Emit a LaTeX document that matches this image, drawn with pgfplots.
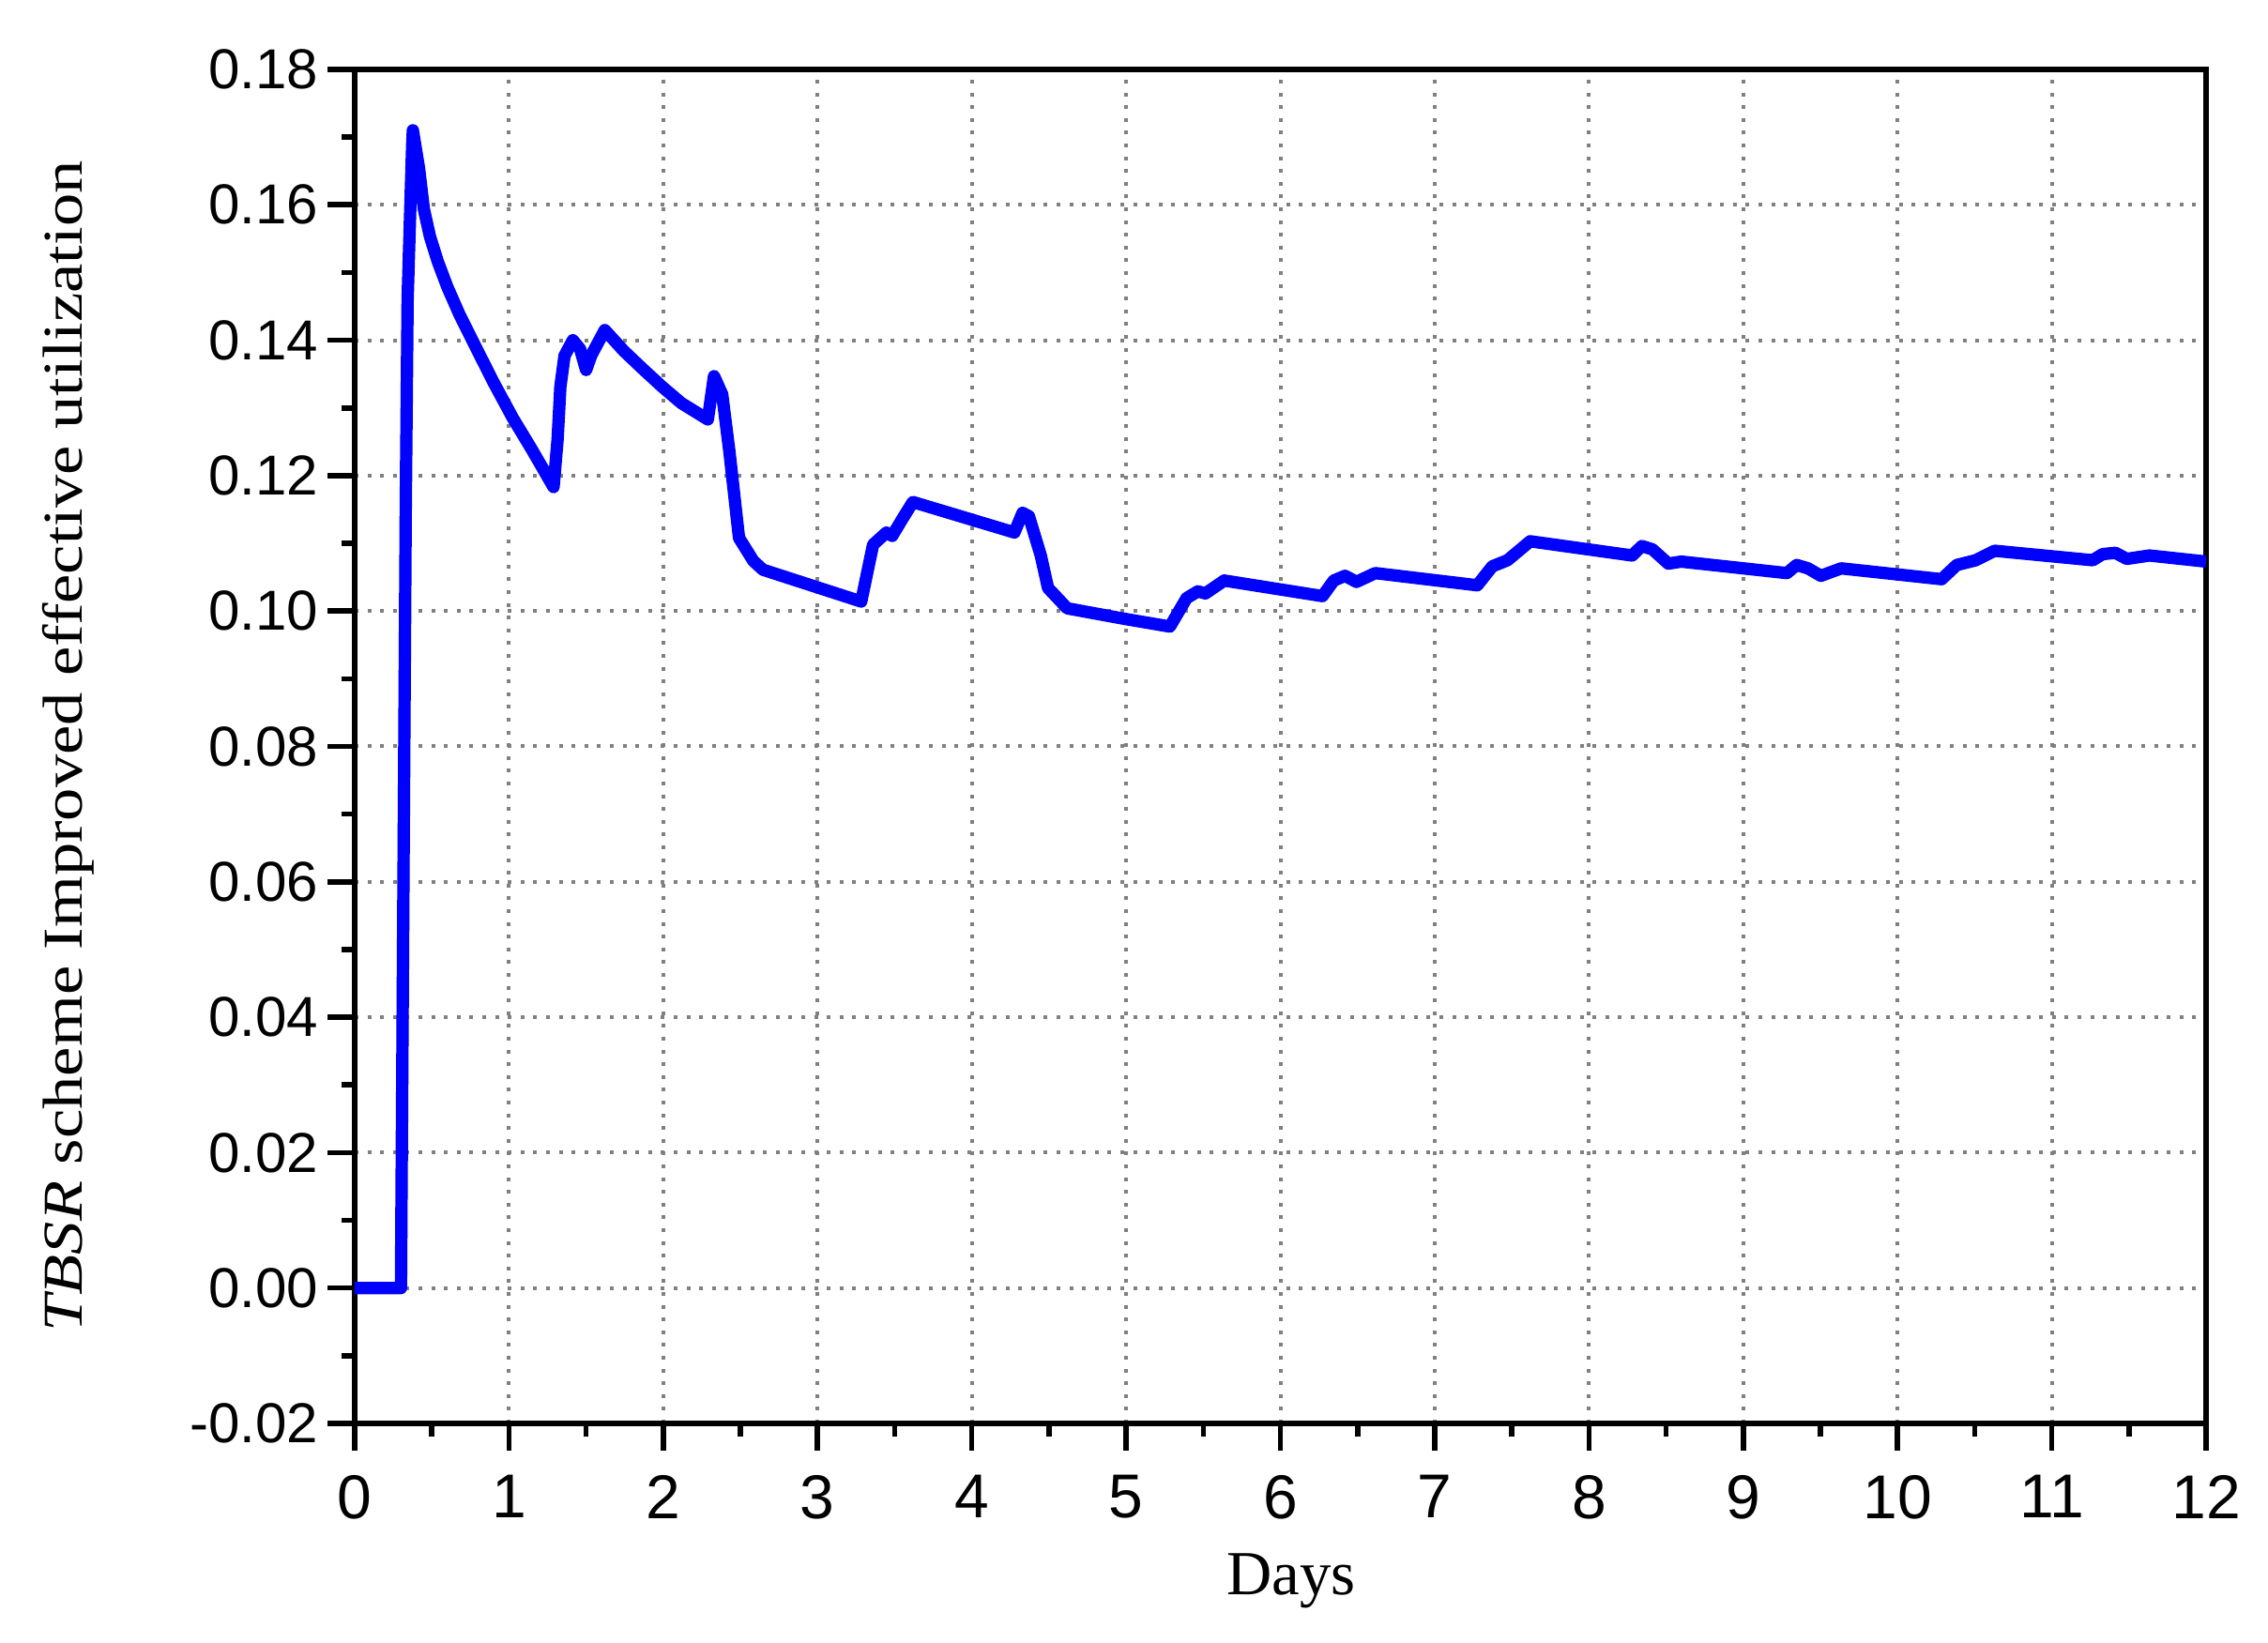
\documentclass[border=0pt]{standalone}
\usepackage{fontspec}
\setmainfont{Liberation Serif}
\setsansfont{Liberation Sans}
\usepackage{pgfplots}
\pgfplotsset{compat=1.18}
\definecolor{gridgray}{RGB}{128,128,128}
\begin{document}
\begin{tikzpicture}
\begin{axis}[
  scale only axis,
  width=493.25pt, height=360.75pt,
  at={(0,0)}, anchor=south west,
  xmin=0, xmax=12, ymin=-0.02, ymax=0.18,
  xtick={0,1,...,12},
  ytick={-0.02,0,0.02,0.04,0.06,0.08,0.10,0.12,0.14,0.16,0.18},
  minor x tick num=1, minor y tick num=1,
  xtick pos=bottom, ytick pos=left,
  tick align=outside,
  major tick length=7.25pt, minor tick length=3.6pt,
  every tick/.style={black, line width=1.4pt},
  axis line style={line width=1.6pt},
  grid=major,
  major grid style={gridgray, line width=1pt, dash pattern=on 1pt off 2.4pt},
  /pgf/number format/assume math mode=true,
  yticklabel style={font=\sffamily\fontsize{15}{15}\selectfont, xshift=1pt, /pgf/number format/.cd, fixed, fixed zerofill, precision=2},
  xticklabel style={font=\sffamily\fontsize{16.5}{16.5}\selectfont, yshift=-3pt},
  every axis x label/.style={at={(axis description cs:0.5,0)}, anchor=base, yshift=-45.75pt, xshift=2.9pt},
  every axis y label/.style={at={(axis description cs:0,0.5)}, xshift=-72.5pt, rotate=90, anchor=base},
  xlabel={\fontsize{16.7}{17}\selectfont Days},
  ylabel={\scalebox{1.175}[1]{\fontsize{15}{15}\selectfont\textit{TBSR} scheme Improved effective utilization}},
]
\addplot[blue, line width=3.3pt, line join=round] coordinates {
(0,0) (0.30,0) (0.331,0.1156) (0.343,0.146) (0.361,0.160) (0.373,0.169) (0.377,0.1710)
(0.417,0.1654) (0.448,0.1594) (0.488,0.1553) (0.539,0.1516) (0.600,0.1479) (0.681,0.1437)
(0.782,0.1391) (0.904,0.1336) (1.025,0.1285) (1.147,0.1239) (1.289,0.1183) (1.315,0.1253)
(1.333,0.1331) (1.360,0.1377) (1.414,0.1400) (1.461,0.1387) (1.500,0.1356) (1.534,0.1378)
(1.621,0.1415) (1.745,0.1384)
(1.87,0.1357) (1.994,0.1331) (2.118,0.1307) (2.289,0.1283) (2.329,0.1347) (2.382,0.132)
(2.429,0.1235) (2.491,0.1108) (2.584,0.1074) (2.646,0.1061) (3.283,0.1014) (3.36,0.1098)
(3.447,0.1116) (3.484,0.1111) (3.547,0.1135) (3.618,0.1161) (4.276,0.1116) (4.329,0.1145)
(4.37,0.114) (4.447,0.1082) (4.494,0.1034) (4.618,0.1004) (4.976,0.0989) (5.284,0.0977)
(5.392,0.1019) (5.465,0.1029) (5.514,0.1026) (5.636,0.1045) (6.273,0.1022) (6.346,0.1045)
(6.419,0.1052) (6.493,0.1043) (6.615,0.1056) (7.276,0.1038) (7.374,0.1066) (7.472,0.1075)
(7.619,0.1103) (8.28,0.1082) (8.343,0.1096) (8.412,0.1091) (8.514,0.107) (8.598,0.1073)
(9.283,0.1056) (9.346,0.1068) (9.42,0.1063) (9.503,0.1052) (9.635,0.1063) (10.286,0.1047)
(10.384,0.1068) (10.507,0.1075) (10.629,0.1089) (11.265,0.1075) (11.329,0.1084) (11.412,0.1086)
(11.486,0.1077) (11.633,0.1082) (12,0.1073)
};
\end{axis}
\path (-94.5pt,-58.5pt) rectangle (509.75pt,379.25pt);
\end{tikzpicture}
\end{document}
